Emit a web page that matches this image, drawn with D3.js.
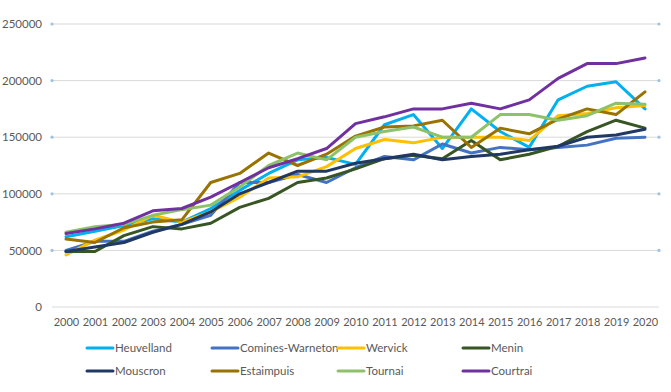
<!DOCTYPE html>
<html>
<head>
<meta charset="utf-8">
<script src="https://cdn.jsdelivr.net/npm/d3@7"></script>
<style>
  html, body { margin: 0; padding: 0; background: #fff; }
  svg { display: block; }
  text { font-family: Lato, "Open Sans", sans-serif; fill: #595959; }
</style>
</head>
<body>
<svg id="chart" width="671" height="392"></svg>
<script>
const years = [2000,2001,2002,2003,2004,2005,2006,2007,2008,2009,2010,2011,2012,2013,2014,2015,2016,2017,2018,2019,2020];
const yTicks = [0, 50000, 100000, 150000, 200000, 250000];

const seriesNames = ["Heuvelland","Comines-Warneton","Wervick","Menin","Mouscron","Estaimpuis","Tournai","Courtrai"];
const seriesColors = ["#00B0F0","#4472C4","#FFC000","#375623","#1F3864","#997300","#8DC26A","#7030A0"];

const heuvelland      = [62000,67000,72000,78000,75000,87000,103000,118000,130000,132000,126000,161000,170000,140000,175000,155000,141000,183000,195000,199000,175000];
const cominesWarneton = [50000,58000,58000,67000,73000,81000,110000,110000,117000,110000,123000,133000,130000,144000,136000,141000,139000,141000,143000,149000,150000];
const wervick         = [46000,59000,68000,81000,75000,84000,97000,114000,115000,124000,140000,148000,145000,150000,150000,150000,147000,169000,171000,176000,178000];
const menin           = [49000,49000,63000,71000,69000,74000,88000,96000,110000,114000,122000,131000,134000,131000,147000,130000,135000,142000,155000,165000,158000];
const mouscron        = [49000,53000,57000,66000,73000,84000,100000,110000,120000,120000,127000,131000,135000,130000,133000,135000,139000,142000,150000,152000,157000];
const estaimpuis      = [60000,57000,70000,75000,77000,110000,118000,136000,125000,135000,151000,159000,160000,165000,141000,158000,153000,166000,175000,170000,190000];
const tournai         = [66000,71000,73000,81000,86000,90000,106000,125000,136000,130000,150000,155000,159000,150000,150000,170000,170000,165000,169000,180000,179000];
const courtrai        = [65000,69000,74000,85000,87000,97000,110000,123000,131000,140000,162000,168000,175000,175000,180000,175000,183000,202000,215000,215000,220000];

const seriesValues = [heuvelland, cominesWarneton, wervick, menin, mouscron, estaimpuis, tournai, courtrai];

const svg = d3.select("#chart");

const x = d3.scalePoint().domain(years).range([66, 645]);
const y = d3.scaleLinear().domain([0, 250000]).range([307, 24]);

const gridLeft = 52, gridRight = 659;

// gridlines
const grid = svg.append("g");
grid.selectAll("line").data(yTicks).enter().append("line")
  .attr("x1", gridLeft).attr("x2", gridRight)
  .attr("y1", d => y(d)).attr("y2", d => y(d))
  .attr("stroke", "#D9D9D9").attr("stroke-width", 1);

// small end markers
const dots = yTicks.filter(d => d !== 0);
grid.selectAll("circle.l").data(dots).enter().append("circle")
  .attr("class", "l").attr("cx", gridLeft).attr("cy", d => y(d)).attr("r", 1.6)
  .attr("fill", "#9DC3E6");
grid.selectAll("circle.r").data(dots).enter().append("circle")
  .attr("class", "r").attr("cx", gridRight).attr("cy", d => y(d)).attr("r", 1.6)
  .attr("fill", "#9DC3E6");

// y axis labels
const yAxis = d3.axisLeft(y).tickValues(yTicks).tickSize(0).tickPadding(0).tickFormat(d3.format("d"));
const gy = svg.append("g").attr("transform", "translate(42,0)").call(yAxis);
gy.select(".domain").remove();
gy.selectAll("text").attr("font-size", 11.5).attr("fill", "#595959")
  .style("font-family", "Lato, 'Open Sans', sans-serif");

// x axis labels
const xAxis = d3.axisBottom(x).tickSize(0).tickPadding(0).tickFormat(d3.format("d"));
const gx = svg.append("g").attr("transform", "translate(0,318)").call(xAxis);
gx.select(".domain").remove();
gx.selectAll("text").attr("font-size", 11).attr("fill", "#595959")
  .style("font-family", "Lato, 'Open Sans', sans-serif");

// lines
const line = d3.line().x((d, i) => x(years[i])).y(d => y(d));
svg.append("g").selectAll("path").data(seriesValues).enter().append("path")
  .attr("d", d => line(d))
  .attr("fill", "none")
  .attr("stroke", (d, i) => seriesColors[i])
  .attr("stroke-width", 3)
  .attr("stroke-linejoin", "round")
  .attr("stroke-linecap", "round");

// legend
const colX = [87, 212, 338, 463];
const rowY = [348, 371];
const leg = svg.append("g");
seriesNames.forEach((name, i) => {
  const cx = colX[i % 4], cy = rowY[Math.floor(i / 4)];
  leg.append("line").attr("x1", cx).attr("x2", cx + 26).attr("y1", cy).attr("y2", cy)
    .attr("stroke", seriesColors[i]).attr("stroke-width", 3).attr("stroke-linecap", "round");
  leg.append("text").attr("x", cx + 28).attr("y", cy).attr("dy", "0.35em")
    .attr("font-size", 11.5).text(name);
});
</script>
</body>
</html>
